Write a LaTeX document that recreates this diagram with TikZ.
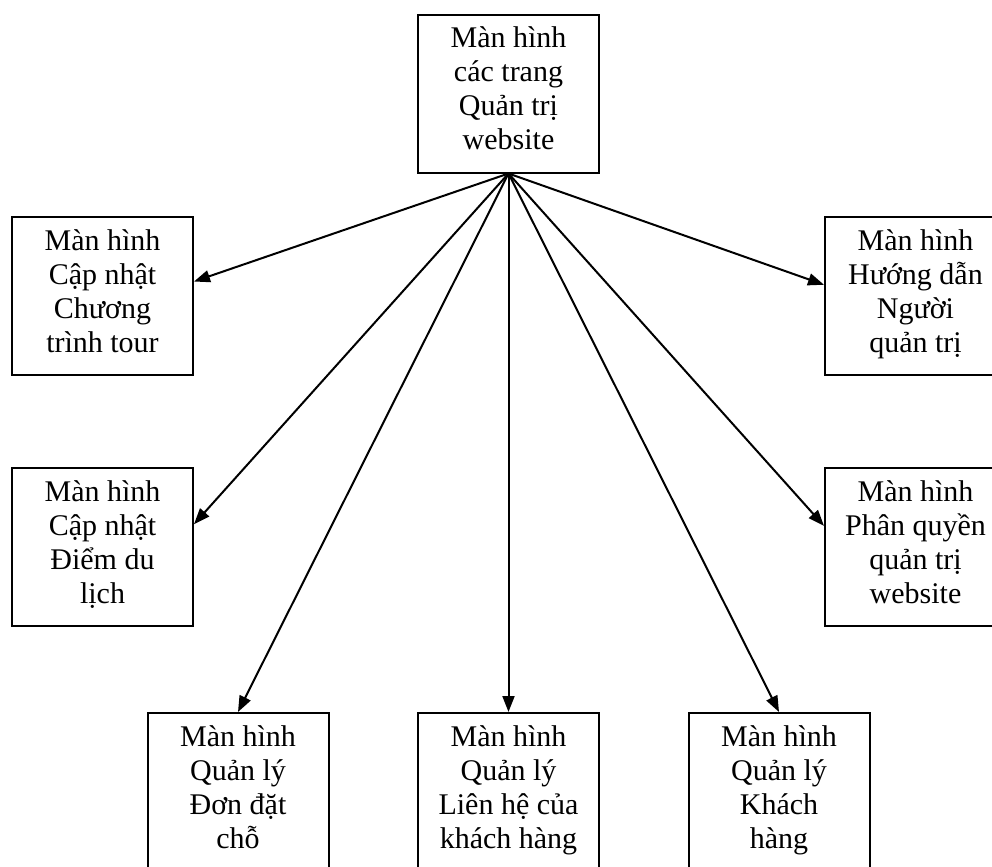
\documentclass[tikz,border=0pt]{standalone}
\usepackage{fontspec}
\setmainfont{Liberation Serif}
\usetikzlibrary{arrows.meta}
\tikzset{
  screen/.style={draw,line width=1pt,minimum width=90.5pt,minimum height=79pt,
    inner sep=0pt,align=center,font=\fontsize{15}{17}\selectfont,
    execute at begin node=\strut,execute at end node=\strut},
  link/.style={-{Triangle[length=8pt,width=6pt]},line width=1pt}
}
\begin{document}
\begin{tikzpicture}[x=0.5pt,y=-0.5pt]
                    \useasboundingbox (0,0) rectangle (992,867);
                    \node[screen] (admin) at (508.5,93.5) {Màn hình\\các trang\\Quản trị\\website};
                    \node[screen] (tour) at (102.5,296) {Màn hình\\Cập nhật\\Chương\\trình tour};
                    \node[screen] (place) at (102.5,547) {Màn hình\\Cập nhật\\Điểm du\\lịch};
                    \node[screen] (guide) at (915.5,296) {Màn hình\\Hướng dẫn\\Người\\quản trị};
                    \node[screen] (rights) at (915.5,547) {Màn hình\\Phân quyền\\quản trị\\website};
                    \node[screen] (booking) at (238,792) {Màn hình\\Quản lý\\Đơn đặt\\chỗ};
                    \node[screen] (contact) at (508.5,792) {Màn hình\\Quản lý\\Liên hệ của\\khách hàng};
                    \node[screen] (customer) at (779,792) {Màn hình\\Quản lý\\Khách\\hàng};
                    \draw[link] (admin.south) -- (tour.9);
                    \draw[link] (admin.south) -- (place.14);
                    \draw[link] (admin.south) -- (guide.173);
                    \draw[link] (admin.south) -- (rights.167);
                    \draw[link] (admin.south) -- (booking.north);
                    \draw[link] (admin.south) -- (contact.north);
                    \draw[link] (admin.south) -- (customer.north);
                \end{tikzpicture}
\end{document}
